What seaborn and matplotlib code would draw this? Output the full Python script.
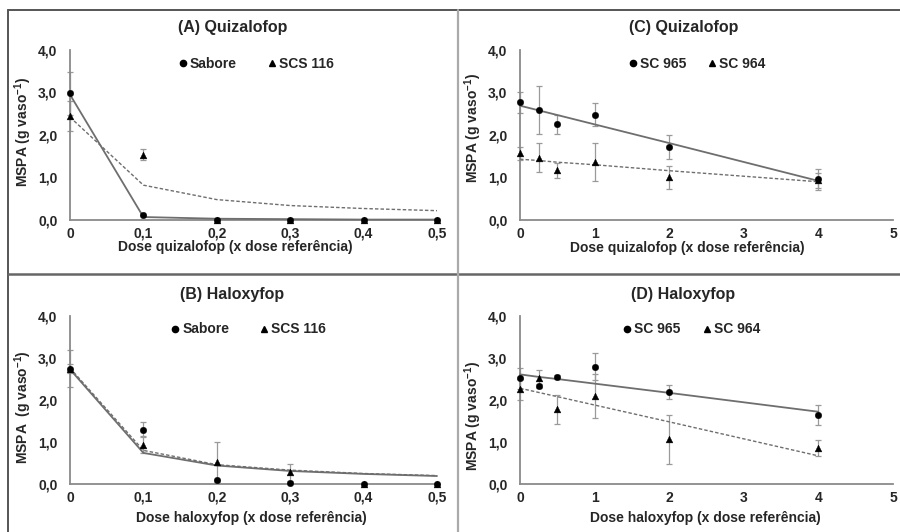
import numpy as np
import matplotlib
matplotlib.use('Agg')
import matplotlib.pyplot as plt
import seaborn as sns
from matplotlib.lines import Line2D

sns.set_style('white')
plt.rcParams['font.family'] = ['Liberation Sans', 'DejaVu Sans']
plt.rcParams['font.weight'] = 'bold'
plt.rcParams['axes.labelweight'] = 'bold'

# doses
dose_ab = [0, 0.1, 0.2, 0.3, 0.4, 0.5]
dose_cd = [0, 0.25, 0.5, 1, 2, 4]

# (A) quizalofop - Sabore / SCS 116
a_sab = [2.98, 0.12, 0.01, 0.01, 0.01, 0.01]
a_sab_err = [0.50, 0.0, 0.0, 0.0, 0.0, 0.0]
a_scs = [2.45, 1.54, 0.01, 0.01, 0.01, 0.01]
a_scs_err = [0.35, 0.13, 0.0, 0.0, 0.0, 0.0]
a_sab_fit = [2.95, 0.07, 0.03, 0.02, 0.01, 0.01]
a_scs_fit = [2.42, 0.82, 0.48, 0.34, 0.27, 0.22]

# (B) haloxyfop - Sabore / SCS 116
b_sab = [2.75, 1.29, 0.09, 0.02, 0.01, 0.01]
b_sab_err = [0.45, 0.18, 0.0, 0.0, 0.0, 0.0]
b_scs = [2.75, 0.94, 0.52, 0.28, 0.01, 0.01]
b_scs_err = [0.10, 0.20, 0.48, 0.20, 0.0, 0.0]
b_sab_fit = [2.73, 0.74, 0.44, 0.31, 0.24, 0.19]
b_scs_fit = [2.76, 0.80, 0.46, 0.33, 0.25, 0.20]

# (C) quizalofop - SC 965 / SC 964
c_965 = [2.77, 2.59, 2.25, 2.48, 1.72, 0.96]
c_965_err = [0.25, 0.56, 0.22, 0.27, 0.28, 0.25]
c_964 = [1.57, 1.47, 1.17, 1.36, 1.00, 0.93]
c_964_err = [0.15, 0.34, 0.18, 0.45, 0.28, 0.18]
c_965_fit = [2.69, 2.58, 2.47, 2.25, 1.81, 0.92]
c_964_fit = [1.43, 1.40, 1.36, 1.30, 1.16, 0.90]

# (D) haloxyfop - SC 965 / SC 964
d_965 = [2.52, 2.33, 2.55, 2.79, 2.19, 1.64]
d_965_err = [0.25, 0.05, 0.05, 0.32, 0.17, 0.23]
d_964 = [2.26, 2.52, 1.78, 2.10, 1.06, 0.85]
d_964_err = [0.25, 0.20, 0.34, 0.53, 0.59, 0.19]
d_965_fit = [2.61, 2.55, 2.50, 2.39, 2.17, 1.72]
d_964_fit = [2.28, 2.18, 2.08, 1.88, 1.48, 0.67]

y_ticks = [0, 1, 2, 3, 4]
y_ticklabels = ['0,0', '1,0', '2,0', '3,0', '4,0']
x_ticks_ab = [0, 0.1, 0.2, 0.3, 0.4, 0.5]
x_ticklabels_ab = ['0', '0,1', '0,2', '0,3', '0,4', '0,5']
x_ticks_cd = [0, 1, 2, 3, 4, 5]
x_ticklabels_cd = ['0', '1', '2', '3', '4', '5']

ylab = 'MSPA (g vaso$^{\\mathregular{-1}}$)'

paineis = [
    dict(titulo='(A) Quizalofop', xlab='Dose quizalofop (x dose referência)',
         ylab=ylab, dose=dose_ab, s1=a_sab, e1=a_sab_err, s2=a_scs, e2=a_scs_err,
         f1=a_sab_fit, f2=a_scs_fit, nomes=['Sabore', 'SCS 116'],
         ticks=x_ticks_ab, tlabels=x_ticklabels_ab, xlim=(0, 0.5),
         rect=[70, 50, 437, 220], tpos=(233, 28), xpos=(235, 247), ypos=(23, 132), legx=0.507, cs=2.2),
    dict(titulo='(C) Quizalofop', xlab='Dose quizalofop (x dose referência)',
         ylab=ylab, dose=dose_cd, s1=c_965, e1=c_965_err, s2=c_964, e2=c_964_err,
         f1=c_965_fit, f2=c_964_fit, nomes=['SC 965', 'SC 964'],
         ticks=x_ticks_cd, tlabels=x_ticklabels_cd, xlim=(0, 5),
         rect=[520, 50, 893, 220], tpos=(684, 28), xpos=(687, 248), ypos=(473, 128), legx=0.475, cs=1.6),
    dict(titulo='(B) Haloxyfop', xlab='Dose haloxyfop (x dose referência)',
         ylab='MSPA  (g vaso$^{\\mathregular{-1}}$)', dose=dose_ab, s1=b_sab, e1=b_sab_err, s2=b_scs, e2=b_scs_err,
         f1=b_sab_fit, f2=b_scs_fit, nomes=['Sabore', 'SCS 116'],
         ticks=x_ticks_ab, tlabels=x_ticklabels_ab, xlim=(0, 0.5),
         rect=[70, 316, 437, 484], tpos=(232, 294), xpos=(251, 518), ypos=(23, 407), legx=0.486, cs=2.2),
    dict(titulo='(D) Haloxyfop', xlab='Dose haloxyfop (x dose referência)',
         ylab=ylab, dose=dose_cd, s1=d_965, e1=d_965_err, s2=d_964, e2=d_964_err,
         f1=d_965_fit, f2=d_964_fit, nomes=['SC 965', 'SC 964'],
         ticks=x_ticks_cd, tlabels=x_ticklabels_cd, xlim=(0, 5),
         rect=[520, 316, 893, 484], tpos=(683, 294), xpos=(705, 518), ypos=(473, 416), legx=0.46, cs=1.6),
]

W, H = 900, 532
fig = plt.figure(figsize=(9, 5.32), dpi=100)

cinza = '#8a8a8a'
for p in paineis:
    x0, y0, x1, y1 = p['rect']
    ax = fig.add_axes([x0 / W, 1 - y1 / H, (x1 - x0) / W, (y1 - y0) / H])
    ax.set_facecolor('none')

    ax.errorbar(p['dose'], p['s1'], yerr=p['e1'], fmt='none', ecolor='#9a9a9a', elinewidth=0.9, capsize=2.5, capthick=0.9, zorder=2)
    ax.errorbar(p['dose'], p['s2'], yerr=p['e2'], fmt='none', ecolor='#9a9a9a', elinewidth=0.9, capsize=2.5, capthick=0.9, zorder=2)

    sns.lineplot(x=p['dose'], y=p['f1'], ax=ax, color='#6e6e6e', lw=1.3, estimator=None, zorder=3)
    sns.lineplot(x=p['dose'], y=p['f2'], ax=ax, color='#6e6e6e', lw=1.0, estimator=None, zorder=3, dashes=False, linestyle=(0, (2.5, 1.5)))

    sns.scatterplot(x=p['dose'], y=p['s1'], ax=ax, marker='o', s=22, color='black', edgecolor='black', linewidth=0.3, zorder=4)
    sns.scatterplot(x=p['dose'], y=p['s2'], ax=ax, marker='^', s=24, color='black', edgecolor='black', linewidth=0.3, zorder=4)

    ax.set_xlim(p['xlim'])
    ax.set_ylim(0, 4)
    ax.set_xticks(p['ticks'])
    ax.set_xticklabels(p['tlabels'])
    ax.set_yticks(y_ticks)
    ax.set_yticklabels(y_ticklabels)
    ax.tick_params(axis='both', which='both', direction='in', length=3, width=0.9, color=cinza, labelsize=10, pad=5)
    ax.tick_params(axis='y', pad=9)
    for lab in ax.get_xticklabels() + ax.get_yticklabels():
        lab.set_fontweight('bold')
    for s in ['top', 'right']:
        ax.spines[s].set_visible(False)
    for s in ['left', 'bottom']:
        ax.spines[s].set_color(cinza)
        ax.spines[s].set_linewidth(1.3)
    for art in ax.collections + ax.lines:
        art.set_clip_on(False)

    handles = [Line2D([], [], marker='o', ls='none', color='black', markersize=4.5),
               Line2D([], [], marker='^', ls='none', color='black', markersize=4.5)]
    ax.legend(handles, p['nomes'], loc='center', bbox_to_anchor=(p['legx'], 0.92), ncol=2, frameon=False,
              handlelength=0.6, handletextpad=0.2, columnspacing=p['cs'], prop={'size': 10, 'weight': 'bold'})

    fig.text(p['tpos'][0] / W, 1 - p['tpos'][1] / H, p['titulo'], ha='center', va='center', fontsize=11.5, fontweight='bold')
    fig.text(p['xpos'][0] / W, 1 - p['xpos'][1] / H, p['xlab'], ha='center', va='center', fontsize=10, fontweight='bold')
    fig.text(p['ypos'][0] / W, 1 - p['ypos'][1] / H, p['ylab'], ha='center', va='center', rotation=90, fontsize=10, fontweight='bold')

# moldura da figura
fig.add_artist(Line2D([8 / W, 1], [1 - 10 / H, 1 - 10 / H], color='#555555', lw=1.4))
fig.add_artist(Line2D([8 / W, 8 / W], [0, 1 - 10 / H], color='#555555', lw=1.4))
fig.add_artist(Line2D([8 / W, 1], [1 - 274 / H, 1 - 274 / H], color='#666666', lw=1.8))
fig.add_artist(Line2D([458 / W, 458 / W], [0, 1 - 10 / H], color='#aaaaaa', lw=1.6))

fig.savefig('out.png', dpi=100, facecolor='white')
